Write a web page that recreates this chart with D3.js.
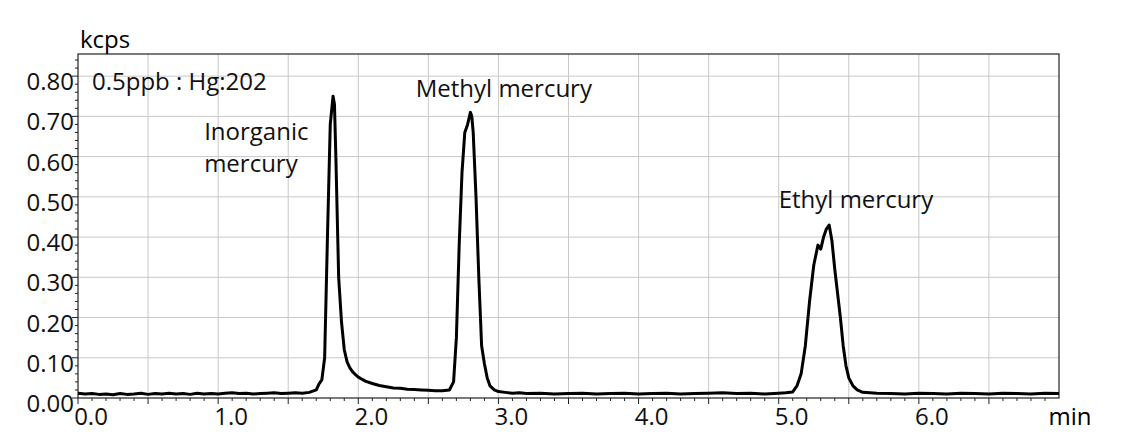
<!DOCTYPE html>
<html><head><meta charset="utf-8">
<script src="https://cdn.jsdelivr.net/npm/d3@7"></script>
<style>body{margin:0;background:#fff}text{font-family:"Open Sans","Noto Sans",sans-serif}</style>
</head><body><svg id="c" width="1134" height="442"></svg>
<script>
const xTicks=[0,1,2,3,4,5,6];
const yTicks=[0,0.1,0.2,0.3,0.4,0.5,0.6,0.7,0.8];
const times=[0,0.05,0.1,0.15,0.2,0.25,0.3,0.35,0.4,0.45,0.5,0.55,0.6,0.65,0.7,0.75,0.8,0.85,0.9,0.95,1.0,1.05,1.1,1.15,1.2,1.25,1.3,1.35,1.4,1.45,1.5,1.55,1.6,1.65,1.7,1.72,1.74,1.76,1.78,1.8,1.82,1.83,1.84,1.86,1.88,1.9,1.92,1.94,1.96,1.98,2.0,2.02,2.05,2.1,2.15,2.2,2.25,2.3,2.35,2.4,2.45,2.5,2.55,2.6,2.65,2.68,2.7,2.72,2.74,2.76,2.78,2.8,2.81,2.82,2.84,2.86,2.88,2.9,2.92,2.94,2.97,3.0,3.05,3.1,3.15,3.2,3.3,3.4,3.5,3.6,3.7,3.8,3.9,4.0,4.1,4.2,4.3,4.4,4.5,4.6,4.7,4.8,4.9,5.0,5.05,5.1,5.13,5.16,5.19,5.22,5.25,5.28,5.3,5.32,5.34,5.36,5.38,5.4,5.42,5.44,5.46,5.48,5.5,5.53,5.56,5.6,5.7,5.8,5.9,6.0,6.1,6.2,6.3,6.4,6.5,6.6,6.7,6.8,6.9,7.0];
const signal=[0.012,0.010,0.011,0.009,0.010,0.008,0.011,0.009,0.010,0.012,0.009,0.011,0.010,0.012,0.010,0.011,0.009,0.012,0.010,0.011,0.010,0.012,0.013,0.011,0.012,0.010,0.011,0.012,0.013,0.011,0.012,0.013,0.012,0.014,0.020,0.035,0.045,0.10,0.40,0.68,0.75,0.73,0.60,0.30,0.19,0.12,0.09,0.075,0.065,0.058,0.052,0.048,0.042,0.036,0.031,0.028,0.025,0.024,0.022,0.021,0.020,0.019,0.018,0.018,0.020,0.040,0.15,0.38,0.56,0.66,0.68,0.71,0.70,0.66,0.50,0.30,0.13,0.085,0.050,0.030,0.020,0.016,0.014,0.012,0.013,0.011,0.012,0.010,0.011,0.012,0.010,0.011,0.012,0.010,0.011,0.012,0.010,0.011,0.012,0.013,0.011,0.012,0.010,0.012,0.013,0.015,0.030,0.060,0.13,0.24,0.33,0.38,0.37,0.40,0.42,0.43,0.39,0.32,0.26,0.20,0.13,0.08,0.05,0.030,0.020,0.014,0.012,0.011,0.010,0.012,0.011,0.010,0.012,0.011,0.010,0.012,0.011,0.010,0.012,0.011];
const labels=[{t:"0.5ppb : Hg:202",x:0.1,y:0.765},{t:"Inorganic",x:0.9,y:0.641},{t:"mercury",x:0.9,y:0.562},{t:"Methyl mercury",x:2.41,y:0.748},{t:"Ethyl mercury",x:5.0,y:0.472}];

const svg=d3.select("#c");
const L=78,R=1059,T=54,B=398;
const x=d3.scaleLinear().domain([0,7]).range([L,R]);
const y=d3.scaleLinear().domain([0,0.855]).range([B,T]);
const g=svg.append("g");
g.selectAll(".vg").data(d3.range(0.5,7,0.5)).enter().append("line").attr("x1",d=>x(d)).attr("x2",d=>x(d)).attr("y1",T).attr("y2",B).attr("stroke","#c8c8c8");
g.selectAll(".hg").data(yTicks.slice(1)).enter().append("line").attr("x1",L).attr("x2",R).attr("y1",d=>y(d)).attr("y2",d=>y(d)).attr("stroke","#c8c8c8");
svg.append("rect").attr("x",L).attr("y",T).attr("width",R-L).attr("height",B-T).attr("fill","none").attr("stroke","#222").attr("stroke-width",1.2);
svg.selectAll(".xm").data(d3.range(0,70).map(i=>i/10)).enter().append("line").attr("x1",d=>x(d)).attr("x2",d=>x(d)).attr("y1",B).attr("y2",(d,i)=>B+(i%5==0?6:3)).attr("stroke","#222");
svg.selectAll(".xl").data(xTicks).enter().append("text").attr("x",d=>x(d)+13).attr("y",B+27).attr("text-anchor","middle").attr("font-size",24).attr("fill","#111").text(d=>d.toFixed(1));
svg.append("text").attr("x",1070).attr("y",B+27).attr("text-anchor","middle").attr("font-size",24).text("min");
svg.selectAll(".ym").data(d3.range(0,43).map(i=>i/50)).enter().append("line").attr("x1",(d,i)=>L-(i%5==0?6:3)).attr("x2",L).attr("y1",d=>y(d)).attr("y2",d=>y(d)).attr("stroke","#222");
svg.selectAll(".yl").data(yTicks).enter().append("text").attr("x",L-4).attr("y",d=>y(d)+14).attr("text-anchor","end").attr("font-size",24).attr("fill","#111").text(d=>d.toFixed(2));
svg.append("text").attr("x",L+2).attr("y",48).attr("font-size",24).text("kcps");
const line=d3.line().x((d,i)=>x(times[i])).y(d=>y(d));
svg.append("path").datum(signal).attr("d",line).attr("fill","none").attr("stroke","#000").attr("stroke-width",3).attr("stroke-linejoin","round");
svg.selectAll(".an").data(labels).enter().append("text").attr("x",d=>x(d.x)).attr("y",d=>y(d.y)).attr("font-size",24).attr("fill","#111").text(d=>d.t);
</script></body></html>
